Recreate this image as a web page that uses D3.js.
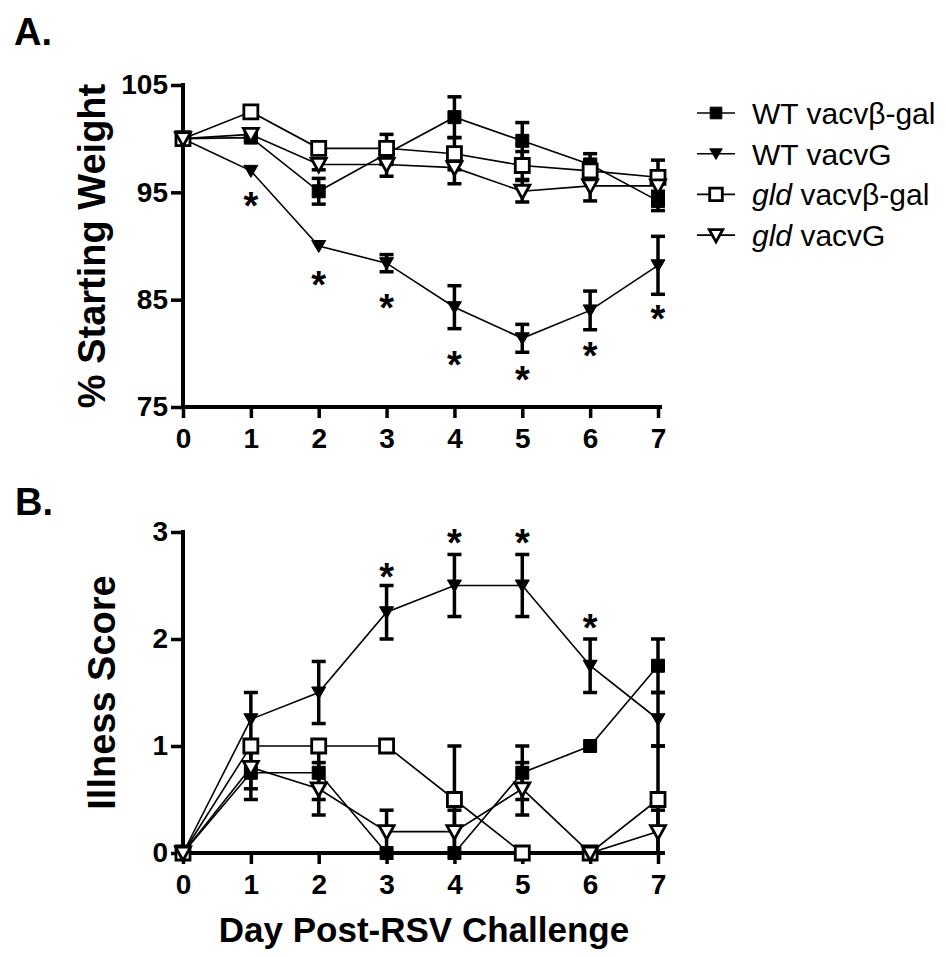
<!DOCTYPE html>
<html>
<head>
<meta charset="utf-8">
<script src="https://cdn.jsdelivr.net/npm/d3@7"></script>
<style>
  html, body { margin: 0; padding: 0; background: #fff; }
  svg { display: block; }
  text { font-family: "Liberation Sans", Arial, Helvetica, sans-serif; fill: #000; }
</style>
</head>
<body>
<svg id="chart" width="946" height="957"></svg>
<script>
// ---------------- DATA ----------------
const days = [0, 1, 2, 3, 4, 5, 6, 7];
const seriesNames = ["WT vacvβ-gal", "WT vacvG", "gld vacvβ-gal", "gld vacvG"];

// Panel A: % starting weight (mean, SEM)
const weightWTbgal     = [100, 100.1, 95.1, 98.6, 102.0, 99.8, 97.6, 94.2];
const weightWTbgalErr  = [0, 0.3, 1.2, 1.0, 1.9, 1.7, 1.0, 0.9];
const weightWTG        = [100, 97.0, 90.0, 88.4, 84.3, 81.4, 84.0, 88.2];
const weightWTGErr     = [0, 0, 0, 0.8, 2.0, 1.3, 1.8, 2.7];
const weightGldBgal    = [100, 102.5, 99.1, 99.1, 98.6, 97.5, 97.0, 96.4];
const weightGldBgalErr = [0, 0.3, 0.3, 1.3, 1.5, 1.3, 1.0, 1.6];
const weightGldG       = [100, 100.4, 97.6, 97.6, 97.3, 95.1, 95.6, 95.6];
const weightGldGErr    = [0, 0.3, 0.5, 1.1, 1.5, 1.0, 1.4, 1.0];
const weightStarDays   = [1, 2, 3, 4, 5, 6, 7];
const weightStarVals   = [94.5, 87.1, 85.0, 79.7, 78.3, 80.5, 83.9];
const weightTicks      = [75, 85, 95, 105];

// Panel B: illness score (mean, SEM)
const scoreWTbgal      = [0, 0.75, 0.75, 0, 0, 0.75, 1.0, 1.75];
const scoreWTbgalErr   = [0, 0.25, 0.25, 0, 0, 0.25, 0, 0.25];
const scoreWTG         = [0, 1.25, 1.5, 2.25, 2.5, 2.5, 1.75, 1.25];
const scoreWTGErr      = [0, 0.25, 0.29, 0.25, 0.29, 0.29, 0.25, 0.25];
const scoreGldBgal     = [0, 1, 1, 1, 0.5, 0, 0, 0.5];
const scoreGldBgalErr  = [0, 0, 0, 0, 0.5, 0, 0, 0.5];
const scoreGldG        = [0, 0.8, 0.6, 0.2, 0.2, 0.6, 0, 0.2];
const scoreGldGErr     = [0, 0.2, 0.245, 0.2, 0.2, 0.245, 0, 0.2];
const scoreStarDays    = [3, 4, 5, 6];
const scoreStarVals    = [2.65, 2.97, 2.97, 2.18];
const scoreTicks       = [0, 1, 2, 3];

// ---------------- SETUP ----------------
const svg = d3.select("#chart");
const FONT = '"Liberation Sans", Arial, Helvetica, sans-serif';

const x = d3.scaleLinear().domain([0, 7]).range([183, 658]);
const yA = d3.scaleLinear().domain([75, 105]).range([407, 85]);
const yB = d3.scaleLinear().domain([0, 3]).range([853, 532]);

const markerTypes = ["filledSquare", "filledTri", "openSquare", "openTri"];

function markerPath(type) {
  if (type === "filledSquare") return "M-6.5,-6.5H6.5V6.5H-6.5Z";
  if (type === "openSquare") return "M-7,-7H7V7H-7Z";
  if (type === "filledTri") return "M-7,-5.5H7L0,6.5Z";
  return "M-7.5,-6H7.5L0,7.5Z";
}
function drawMarker(g, type, cx, cy, scale) {
  const s = scale || 1;
  const filled = type.startsWith("filled");
  g.append("path")
    .attr("d", markerPath(type))
    .attr("transform", `translate(${cx},${cy}) scale(${s})`)
    .attr("fill", filled ? "#000" : "#fff")
    .attr("stroke", "#000")
    .attr("stroke-width", filled ? 1 : 2.8 / s)
    .attr("stroke-linejoin", "miter");
}

function drawPanel(y, seriesVals, seriesErrs, ticks, starDays, starVals) {
  const g = svg.append("g");
  // axes
  const yAxis = d3.axisLeft(y).tickValues(ticks).tickFormat(d3.format("d"))
    .tickSize(12).tickPadding(3).tickSizeOuter(0);
  const xAxis = d3.axisBottom(x).tickValues(days).tickFormat(d3.format("d"))
    .tickSize(11).tickPadding(10).tickSizeOuter(0);
  const gx = g.append("g").attr("transform", `translate(0,${y.range()[0]})`).call(xAxis);
  const gy = g.append("g").attr("transform", `translate(${x(0)},0)`).call(yAxis);
  [gx, gy].forEach(a => {
    a.select(".domain").attr("stroke", "#000").attr("stroke-width", 4);
    a.selectAll(".tick line").attr("stroke", "#000").attr("stroke-width", 3.5);
    a.selectAll(".tick text").attr("font-family", FONT).attr("font-weight", "bold")
      .attr("font-size", 28).attr("fill", "#000");
  });
  gx.select(".domain").attr("d", `M${x(0) - 2},0H${x(7) + 4}`);
  gy.select(".domain").attr("d", `M0,${y.range()[1] - 2}V${y.range()[0] + 2}`);

  // connecting lines
  const line = d3.line().x((d, i) => x(days[i])).y(d => y(d));
  seriesVals.forEach(vals => {
    g.append("path").datum(vals).attr("d", line)
      .attr("fill", "none").attr("stroke", "#000").attr("stroke-width", 1.6);
  });
  // error bars
  seriesVals.forEach((vals, si) => {
    vals.forEach((v, i) => {
      const e = seriesErrs[si][i];
      if (!e) return;
      const cx = x(days[i]);
      const y1 = y(v + e), y2 = y(v - e);
      g.append("line").attr("x1", cx).attr("x2", cx).attr("y1", y1).attr("y2", y2)
        .attr("stroke", "#000").attr("stroke-width", 3.5);
      [y1, y2].forEach(yy => {
        g.append("line").attr("x1", cx - 7).attr("x2", cx + 7).attr("y1", yy).attr("y2", yy)
          .attr("stroke", "#000").attr("stroke-width", 3.5);
      });
    });
  });
  // markers
  seriesVals.forEach((vals, si) => {
    vals.forEach((v, i) => drawMarker(g, markerTypes[si], x(days[i]), y(v)));
  });
  // significance asterisks
  starDays.forEach((d, i) => {
    g.append("text").attr("x", x(d)).attr("y", y(starVals[i]) + 21)
      .attr("text-anchor", "middle").attr("font-weight", "bold").attr("font-size", 38)
      .text("*");
  });
}

drawPanel(yA,
  [weightWTbgal, weightWTG, weightGldBgal, weightGldG],
  [weightWTbgalErr, weightWTGErr, weightGldBgalErr, weightGldGErr],
  weightTicks, weightStarDays, weightStarVals);

drawPanel(yB,
  [scoreWTbgal, scoreWTG, scoreGldBgal, scoreGldG],
  [scoreWTbgalErr, scoreWTGErr, scoreGldBgalErr, scoreGldGErr],
  scoreTicks, scoreStarDays, scoreStarVals);

// axis titles
svg.append("text").attr("transform", `translate(105,${(yA(75) + yA(105)) / 2}) rotate(-90)`)
  .attr("text-anchor", "middle").attr("font-weight", "bold").attr("font-size", 38)
  .text("% Starting Weight");
svg.append("text").attr("transform", `translate(115,${(yB(0) + yB(3)) / 2}) rotate(-90)`)
  .attr("text-anchor", "middle").attr("font-weight", "bold").attr("font-size", 38)
  .text("Illness Score");
svg.append("text").attr("x", 424).attr("y", 942)
  .attr("text-anchor", "middle").attr("font-weight", "bold").attr("font-size", 35)
  .text("Day Post-RSV Challenge");

// panel labels
svg.append("text").attr("x", 14).attr("y", 45).attr("font-weight", "bold").attr("font-size", 38).text("A.");
svg.append("text").attr("x", 15).attr("y", 515).attr("font-weight", "bold").attr("font-size", 38).text("B.");

// legend
const legend = svg.append("g");
seriesNames.forEach((name, i) => {
  const cy = 113 + i * 40.7;
  legend.append("line").attr("x1", 697).attr("x2", 735).attr("y1", cy).attr("y2", cy)
    .attr("stroke", "#000").attr("stroke-width", 1.6);
  drawMarker(legend, markerTypes[i], 716, cy, 0.9);
  const t = legend.append("text").attr("x", 752).attr("y", cy + 11).attr("font-size", 30);
  const parts = name.split(" ");
  t.append("tspan").attr("font-style", parts[0] === "gld" ? "italic" : "normal").text(parts[0]);
  t.append("tspan").text(" " + parts.slice(1).join(" "));
});
</script>
</body>
</html>
